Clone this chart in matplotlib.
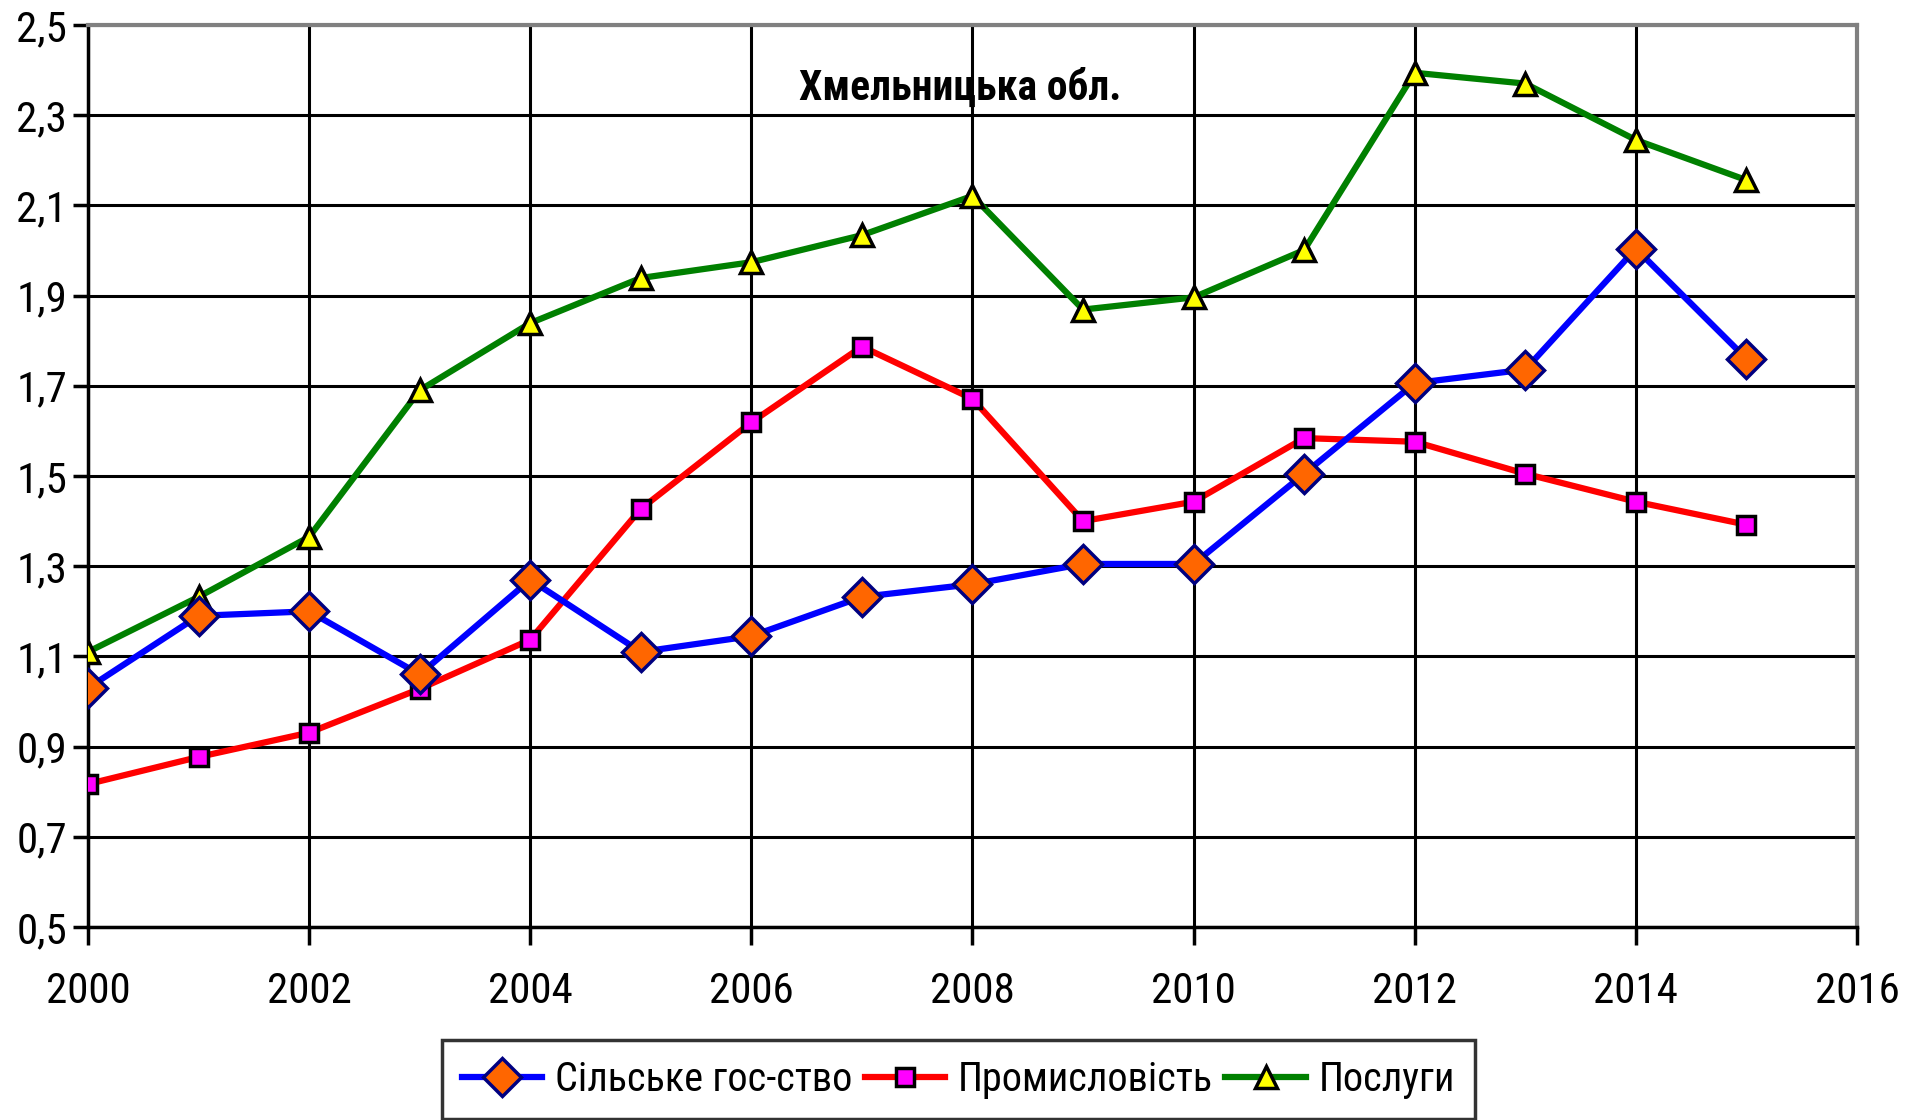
import matplotlib
matplotlib.use('Agg')
import matplotlib.pyplot as plt
import numpy as np

plt.rcParams['font.family'] = ['Roboto Condensed', 'DejaVu Sans']

# дані
roky = [2000, 2001, 2002, 2003, 2004, 2005, 2006, 2007,
        2008, 2009, 2010, 2011, 2012, 2013, 2014, 2015]
silske = [1.03, 1.19, 1.20, 1.06, 1.27, 1.11, 1.145, 1.232,
          1.26, 1.305, 1.305, 1.505, 1.706, 1.736, 2.004, 1.76]
promysl = [0.817, 0.877, 0.931, 1.028, 1.137, 1.427, 1.619, 1.787,
           1.671, 1.40, 1.443, 1.584, 1.576, 1.505, 1.443, 1.392]
posluhy = [1.11, 1.232, 1.365, 1.69, 1.839, 1.939, 1.974, 2.034,
           2.121, 1.869, 1.896, 2.001, 2.394, 2.37, 2.245, 2.156]
nazvy = ['Сільське гос-ство', 'Промисловість', 'Послуги']
x_ticks = [2000, 2002, 2004, 2006, 2008, 2010, 2012, 2014, 2016]
y_ticks = [0.5, 0.7, 0.9, 1.1, 1.3, 1.5, 1.7, 1.9, 2.1, 2.3, 2.5]

fig = plt.figure(figsize=(19.17, 11.2), dpi=100)
ax = fig.add_axes([0.0459, 0.1723, 0.9228, 0.8054])

ax.plot(roky, silske, color='#0000FF', lw=4.5, marker='D', ms=19,
        mfc='#FF6600', mec='#000080', mew=2.5, label=nazvy[0], zorder=5)
ax.plot(roky, promysl, color='#FF0000', lw=4.5, marker='s', ms=13,
        mfc='#FF00FF', mec='black', mew=2.5, label=nazvy[1], zorder=4)
ax.plot(roky, posluhy, color='#008000', lw=4.5, marker='^', ms=15.5,
        mfc='#FFFF00', mec='black', mew=2.5, label=nazvy[2], zorder=3)

ax.set_xlim(2000, 2016)
ax.set_ylim(0.5, 2.5)
ax.set_xticks(x_ticks)
ax.set_yticks(y_ticks)
ax.set_yticklabels([('%.1f' % v).replace('.', ',') for v in y_ticks])
ax.grid(True, color='black', lw=2.2, zorder=0)
ax.set_axisbelow(True)

for s in ['top', 'right']:
    ax.spines[s].set_color('#808080')
    ax.spines[s].set_linewidth(3)
for s in ['left', 'bottom']:
    ax.spines[s].set_color('black')
    ax.spines[s].set_linewidth(2.5)

ax.tick_params(axis='both', labelsize=31, width=2.5, color='black')
ax.tick_params(axis='y', length=11, pad=4)
ax.tick_params(axis='x', length=13, pad=19)

ax.text(0.493, 0.93, 'Хмельницька обл.', transform=ax.transAxes,
        ha='center', va='center', fontsize=30, fontweight='bold')

leg = fig.legend(loc='upper center', bbox_to_anchor=(0.5, 1 - 1040 / 1120), ncol=3,
                 fontsize=29, frameon=True, fancybox=False, edgecolor='black',
                 handlelength=2.0, handletextpad=0.32, columnspacing=0.3,
                 borderpad=0.5, borderaxespad=0)
leg.get_frame().set_linewidth(2.5)

plt.savefig('out.png', dpi=100)
